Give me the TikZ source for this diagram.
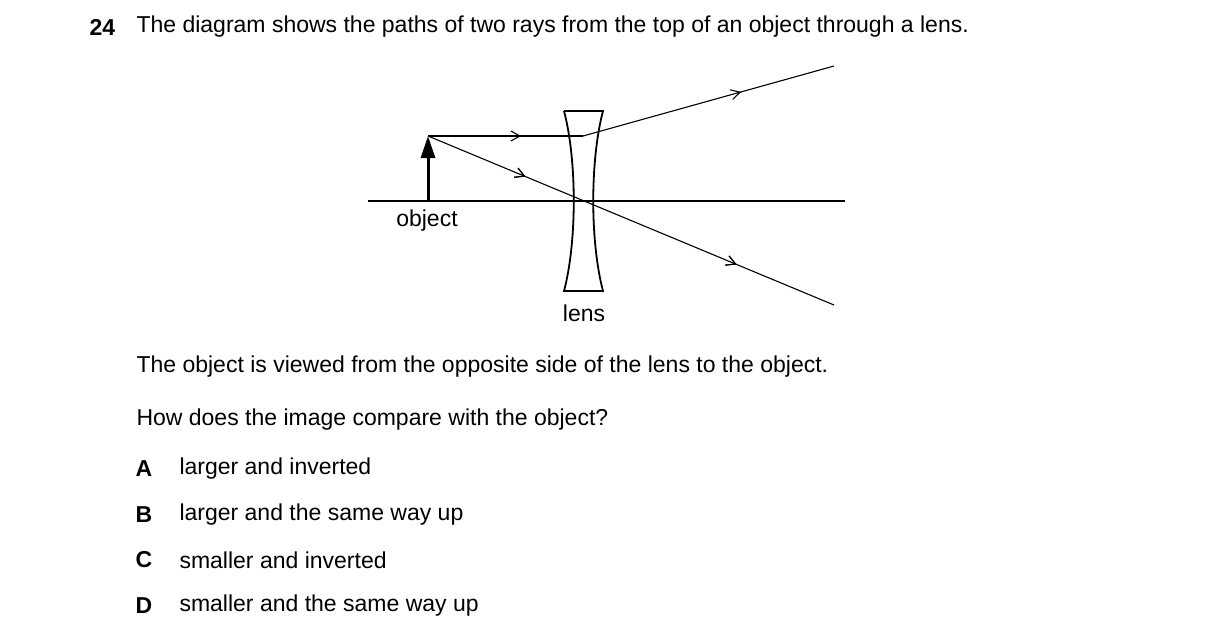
\documentclass[tikz,border=0pt]{standalone}
\usepackage{fontspec}
\setmainfont{Liberation Sans}
\usetikzlibrary{arrows.meta,decorations.markings}
\tikzset{
    ray/.style={line width=1.1pt},
    midarrow/.style={postaction={decorate},decoration={markings,
        mark=at position #1 with {\arrow{Straight Barb[length=9pt,width=10pt]}}}},
    txt/.style={anchor=west,font=\fontsize{23}{27}\selectfont},
    lbl/.style={font=\fontsize{23}{27}\selectfont},
}
\begin{document}
\begin{tikzpicture}[x=1pt,y=-1pt]
    \useasboundingbox (0,0) rectangle (1216,641);
    % Question
    \node [txt, font=\fontsize{23}{27}\selectfont\bfseries] (qn) at (86,27) {24};
    \node [txt] (qt) at (133,27) {The diagram shows the paths of two rays from the top of an object through a lens.};
    % Axis and object
    \coordinate (axl) at (368,201);
    \coordinate (axr) at (845,201);
    \draw [line width=1.3pt] (axl) -- (axr);
    \coordinate (ob) at (428,201);
    \coordinate (ot) at (428,136);
    \draw [line width=3pt, -{Triangle[length=22pt,width=14pt]}] (ob) -- (ot);
    \node [lbl] (lob) at (427,221) {object};
    % Lens
    \draw [line width=1.8pt] (564,111) -- (603,111) .. controls (590,160) and (590,242) .. (603,291)
        -- (564,291) .. controls (577,242) and (577,160) .. (564,111);
    \node [lbl] (llens) at (584,313) {lens};
    % Rays
    \coordinate (r1) at (583,136);
    \coordinate (r1e) at (834,66);
    \coordinate (r2e) at (834,305);
    \draw [ray, midarrow=0.6] (ot) -- (r1);
    \draw [ray, midarrow=0.63] (r1) -- (r1e);
    \draw [ray, midarrow=0.24, midarrow=0.76] (ot) -- (r2e);
    % Text below
    \node [txt] (t1) at (133,367) {The object is viewed from the opposite side of the lens to the object.};
    \node [txt] (t2) at (133,420) {How does the image compare with the object?};
    \foreach \l/\t/\y in {A/larger and inverted/469, B/larger and the same way up/515,
                         C/smaller and inverted/560, D/smaller and the same way up/606} {
        \node [lbl, font=\fontsize{23}{27}\selectfont\bfseries] (opt\l) at (144,\y) {\l};
        \node [txt] (txt\l) at (176,\y) {\t};
    }
\end{tikzpicture}
\end{document}
